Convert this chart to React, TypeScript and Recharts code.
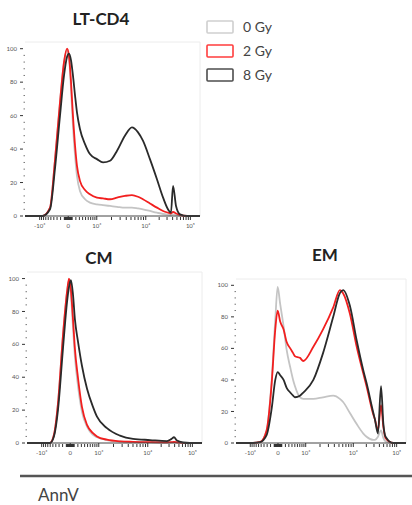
import { Line, LineChart, ReferenceLine, XAxis, YAxis } from 'recharts'

const doses = ['0 Gy', '2 Gy', '8 Gy']
const doseColors = ['#c4c4c4', '#f21f1f', '#2a2a2a']
const legendBorders = ['#cfcfcf', '#ff3d3d', '#4d4d4d']

// x is on a 0-1000 display scale (biexponential AnnV axis)
const xMajorTicks = [84, 247, 410, 690, 945]
const xMajorLabels = ['-10³', '0', '10³', '10⁴', '10⁵']
const yMajorTicks = [0, 20, 40, 60, 80, 100]

// LT-CD4
const ltChannels = [0, 100, 143, 171, 200, 223, 240, 251, 263, 274, 286, 297, 314, 343, 371, 411, 446, 486, 526, 571, 611, 646, 674, 714, 754, 789, 817, 834, 846, 863, 886, 926, 1000]
const ltGray = [0, 0, 5, 33, 68, 92, 99, 95, 76, 54, 36, 24, 15, 10, 8, 7, 6.5, 6, 5.5, 5, 5, 4.5, 4, 3, 2, 1.2, 0.8, 0.6, 1, 0.5, 0.2, 0, 0]
const ltRed = [0, 0, 5, 33, 68, 92, 100, 96, 80, 60, 42, 30, 21, 15.5, 13, 11, 10.5, 10, 11, 12, 12.5, 11.5, 10, 7.5, 5, 3, 2, 1.5, 2.5, 1.5, 0.5, 0, 0]
const ltBlack = [0, 0, 4, 28, 60, 84, 95, 97, 93, 84, 72, 62, 52, 43, 37, 34, 32, 33, 39, 48, 53, 50, 45, 34, 22, 11, 4, 2, 18, 6, 1, 0, 0]

// CM
const cmChannels = [0, 100, 131, 154, 177, 206, 229, 240, 251, 263, 274, 291, 314, 343, 377, 400, 457, 531, 606, 703, 800, 826, 840, 857, 891, 931, 1000]
const cmGray = [0, 0, 0, 5, 24, 66, 92, 99, 90, 70, 52, 35, 19, 10, 5, 3.5, 1.8, 0.9, 0.6, 0.4, 0.3, 0.4, 0.5, 0.3, 0.1, 0, 0]
const cmRed = [0, 0, 0, 5, 24, 66, 92, 100, 93, 75, 57, 40, 22, 11, 6, 4, 2, 1, 0.7, 0.5, 0.4, 0.5, 0.6, 0.4, 0.1, 0, 0]
const cmBlack = [0, 0, 0, 4, 20, 58, 86, 95, 99, 90, 75, 62, 47, 33, 22, 16, 9, 4.5, 2.5, 1.8, 1.2, 2.5, 3.5, 1.5, 0.3, 0, 0]

// EM
const emChannels = [0, 100, 141, 180, 210, 231, 245, 260, 280, 298, 319, 336, 347, 376, 396, 455, 512, 572, 611, 630, 670, 710, 749, 768, 808, 817, 835, 853, 867, 880, 925, 1000]
const emGray = [0, 0, 0.5, 8, 40, 78, 99, 88, 74, 59, 48, 40, 36, 29, 28, 28, 29, 30, 28, 26, 19, 12, 6, 4, 2, 2, 4, 8, 3, 1, 0, 0]
const emRed = [0, 0, 0.5, 8, 38, 72, 84, 77, 72, 64, 60, 57, 55, 54, 52, 61, 72, 86, 97, 95, 82, 61, 44, 36, 18, 15, 8, 24, 10, 3, 0, 0]
const emBlack = [0, 0, 0.5, 5, 22, 40, 45, 43, 40, 35, 32, 30, 29, 30, 32, 40, 57, 80, 95, 97, 87, 65, 46, 38, 19, 15, 6, 36, 12, 4, 0, 0]

// minor ticks: linear-ish region around 0, log decades above 10^3
const toLinear = (v: number) => 247 + (163 * Math.asinh(v / 512)) / Math.asinh(1000 / 512)
const xMinorTicks: number[] = []
for (const k of [10, 100]) {
  for (let m = 1; m <= 9; m++) xMinorTicks.push(toLinear(m * k), toLinear(-m * k))
}
for (let m = 2; m <= 9; m++) {
  xMinorTicks.push(410 + 280 * Math.log10(m), 690 + 255 * Math.log10(m))
}
const xTicks = [...xMajorTicks, ...xMinorTicks].sort((a, b) => a - b)
const yTicks: number[] = []
for (let v = 0; v <= 100; v += 4) yTicks.push(v)

const font = 'Lato, "Open Sans", sans-serif'

function XTick({ x, y, payload }: any) {
  const i = xMajorTicks.indexOf(payload.value)
  if (i < 0) {
    return <line x1={x} x2={x} y1={y + 1} y2={y + 4} stroke="#333" strokeWidth={1} />
  }
  return (
    <g>
      <line x1={x} x2={x} y1={y} y2={y + 4} stroke="#333" />
      <text x={x} y={y + 12} textAnchor="middle" fontSize={6} fill="#555" fontFamily={font}>
        {xMajorLabels[i]}
      </text>
    </g>
  )
}

function YTick({ x, y, payload }: any) {
  const v = payload.value
  if (!yMajorTicks.includes(v)) {
    return <line x1={x - 1.5} x2={x} y1={y} y2={y} stroke="#777" />
  }
  return (
    <g>
      <line x1={x - 5} x2={x - 2} y1={y} y2={y} stroke="#333" />
      <text x={x - 8} y={y} dy="0.35em" textAnchor="end" fontSize={6} fill="#555" fontFamily={font}>
        {v}
      </text>
    </g>
  )
}

function Panel({
  channels,
  series,
  width,
  height,
  margin,
  yAxisWidth,
}: {
  channels: number[]
  series: number[][]
  width: number
  height: number
  margin: { top: number; right: number; left: number; bottom: number }
  yAxisWidth: number
}) {
  const data = channels.map((ch, i) => ({
    ch,
    g: series[0][i],
    r: series[1][i],
    b: series[2][i],
  }))
  return (
    <LineChart width={width} height={height} data={data} margin={margin}>
      <XAxis
        type="number"
        dataKey="ch"
        domain={[0, 1000]}
        ticks={xTicks}
        interval={0}
        tick={(p: any) => <XTick {...p} />}
        tickLine={false}
        tickSize={0}
        tickMargin={0}
        axisLine={{ stroke: '#444' }}
        height={20}
      />
      <YAxis
        type="number"
        domain={[0, 104]}
        ticks={yTicks}
        interval={0}
        tick={(p: any) => <YTick {...p} />}
        tickLine={false}
        tickSize={0}
        tickMargin={0}
        axisLine={false}
        width={yAxisWidth}
      />
      <ReferenceLine y={104} stroke="#ececec" />
      <ReferenceLine x={1000} stroke="#ececec" />
      {['g', 'r', 'b'].map((k, i) => (
        <Line
          key={k}
          dataKey={k}
          name={doses[i]}
          type="monotone"
          stroke={doseColors[i]}
          strokeWidth={1.8}
          dot={false}
          isAnimationActive={false}
        />
      ))}
    </LineChart>
  )
}

export default function App() {
  return (
    <div
      style={{
        position: 'absolute',
        left: 0,
        top: 0,
        width: 412,
        height: 505,
        background: '#fff',
        fontFamily: font,
      }}
    >
      <div style={{ position: 'absolute', left: 0, top: 0 }}>
        <Panel
          channels={ltChannels}
          series={[ltGray, ltRed, ltBlack]}
          width={205}
          height={240}
          margin={{ top: 42, right: 5, left: 0, bottom: 4 }}
          yAxisWidth={25}
        />
      </div>
      <div style={{ position: 'absolute', left: 0, top: 240 }}>
        <Panel
          channels={cmChannels}
          series={[cmGray, cmRed, cmBlack]}
          width={205}
          height={230}
          margin={{ top: 32, right: 3, left: 0, bottom: 7 }}
          yAxisWidth={27}
        />
      </div>
      <div style={{ position: 'absolute', left: 205, top: 240 }}>
        <Panel
          channels={emChannels}
          series={[emGray, emRed, emBlack]}
          width={207}
          height={230}
          margin={{ top: 39, right: 6, left: 0, bottom: 7 }}
          yAxisWidth={31}
        />
      </div>
      <svg
        width={412}
        height={505}
        style={{ position: 'absolute', left: 0, top: 0, pointerEvents: 'none' }}
      >
        <g fontFamily={font} fontWeight={700} fontSize={17} fill="#222" textAnchor="middle">
          <text x={101} y={25}>LT-CD4</text>
          <text x={99} y={264}>CM</text>
          <text x={325} y={261}>EM</text>
        </g>
        {doses.map((d, i) => (
          <g key={d}>
            <rect
              x={207}
              y={21 + i * 24}
              width={26}
              height={12}
              rx={1}
              fill="#fff"
              stroke={legendBorders[i]}
              strokeWidth={1.6}
            />
            <text
              x={243}
              y={27 + i * 24}
              dy="0.35em"
              fontSize={14}
              fill="#444"
              fontFamily={font}
            >
              {d}
            </text>
          </g>
        ))}
        <line x1={20} x2={412} y1={476} y2={476} stroke="#555" strokeWidth={2.5} />
        <text x={38} y={501} fontSize={17} fill="#444" fontFamily={font}>
          AnnV
        </text>
      </svg>
    </div>
  )
}
